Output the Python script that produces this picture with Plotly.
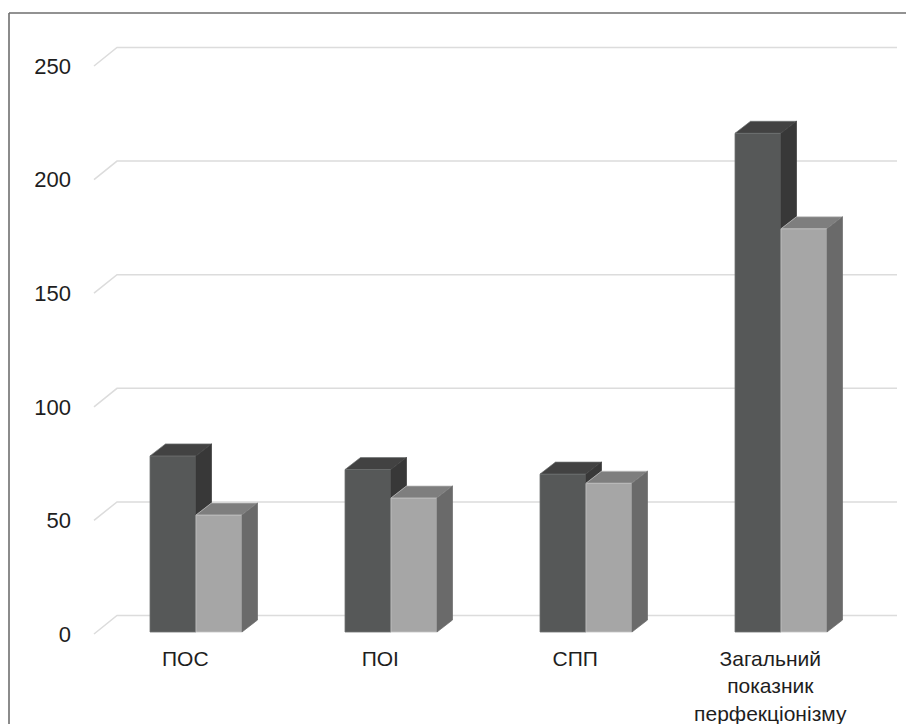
import plotly.graph_objects as go

# Category labels, series values and value-axis ticks
categories = ["ПОС", "ПОІ", "СПП", "Загальний<br>показник<br>перфекціонізму"]
series_dark = [77.5, 71.5, 69.5, 219.5]
series_light = [51.5, 59.0, 65.5, 177.5]
y_ticks = [0, 50, 100, 150, 200, 250]

# Canvas and plot-area geometry (pixels)
W, H = 906, 724
ML, MR, MT, MB = 80, 0, 0, 84
PX_PER_CAT = 195.0       # horizontal distance between category groups
PX_PER_UNIT = 2.272      # vertical pixels per value unit
X_ORIGIN_PX = 196.0      # pixel column of category 0 (split between the two bars)
Y_ZERO_PX = 634.0        # pixel row of value 0 on the front edge of the floor

x_range = [(ML - X_ORIGIN_PX) / PX_PER_CAT, (W - MR - X_ORIGIN_PX) / PX_PER_CAT]
y_range = [(Y_ZERO_PX - (H - MB)) / PX_PER_UNIT, (Y_ZERO_PX - MT) / PX_PER_UNIT]

# Pseudo-3D parameters in data units
BAR_W = 46 / PX_PER_CAT
BAR_DX = 15.5 / PX_PER_CAT
BAR_DY = 12.0 / PX_PER_UNIT
BAR_BASE = 2.0 / PX_PER_UNIT
WALL_X0 = (94 - X_ORIGIN_PX) / PX_PER_CAT
WALL_DX = 23 / PX_PER_CAT
WALL_DY = 18.5 / PX_PER_UNIT
WALL_X1 = (897 - X_ORIGIN_PX) / PX_PER_CAT
LABEL_SHIFT = -0.055

DARK = dict(front="#565858", top="#424242", side="#383838", edge="#6f7171")
LIGHT = dict(front="#a6a6a6", top="#7e7e7e", side="#6a6a6a", edge="#c4c4c4")
GRID = "#dcdcdc"

fig = go.Figure()

# Gridlines: short slanted run on the left wall, then along the back wall
for v in y_ticks:
    fig.add_shape(type="path", xref="x", yref="y", layer="below",
                  path=f"M {WALL_X0},{v} L {WALL_X0 + WALL_DX},{v + WALL_DY} L {WALL_X1},{v + WALL_DY}",
                  line=dict(color=GRID, width=1.5))

x_idx = list(range(len(categories)))
x_dark = [i - BAR_W / 2 for i in x_idx]
x_light = [i + BAR_W / 2 for i in x_idx]

# Front faces of the columns
fig.add_trace(go.Bar(x=x_dark, y=series_dark, base=BAR_BASE, width=BAR_W,
                     marker=dict(color=DARK["front"], line=dict(color=DARK["edge"], width=0.8)),
                     showlegend=False, hoverinfo="skip"))
fig.add_trace(go.Bar(x=x_light, y=series_light, base=BAR_BASE, width=BAR_W,
                     marker=dict(color=LIGHT["front"], line=dict(color=LIGHT["edge"], width=0.8)),
                     showlegend=False, hoverinfo="skip"))


def face(xs, ys, color, edge):
    fig.add_trace(go.Scatter(x=xs, y=ys, mode="lines", fill="toself", fillcolor=color,
                             line=dict(color=edge, width=0.7), hoverinfo="skip",
                             showlegend=False))


for i, vd, vl in zip(x_idx, series_dark, series_light):
    # dark column: top and the part of its side that rises above the light column
    x0, x1 = i - BAR_W, i
    td = vd + BAR_BASE
    tl = vl + BAR_BASE
    face([x0, x1, x1 + BAR_DX, x0 + BAR_DX, x0], [td, td, td + BAR_DY, td + BAR_DY, td],
         DARK["top"], DARK["edge"])
    if td > tl:
        face([x1, x1 + BAR_DX, x1 + BAR_DX, x1, x1], [tl, tl + BAR_DY, td + BAR_DY, td, tl],
             DARK["side"], DARK["side"])
    # light column: top and right side
    x0, x1 = i, i + BAR_W
    face([x0, x1, x1 + BAR_DX, x0 + BAR_DX, x0], [tl, tl, tl + BAR_DY, tl + BAR_DY, tl],
         LIGHT["top"], LIGHT["edge"])
    face([x1, x1 + BAR_DX, x1 + BAR_DX, x1, x1],
         [BAR_BASE, BAR_BASE + BAR_DY, tl + BAR_DY, tl, BAR_BASE],
         LIGHT["side"], LIGHT["side"])

# Outer frame (left and top edges)
fx0 = (9 - ML) / (W - ML - MR)
fy0 = (H - MB - 13) / (H - MT - MB)
fig.add_shape(type="line", xref="paper", yref="paper", x0=fx0, x1=fx0, y0=fy0, y1=-0.2,
              line=dict(color="#6e6e6e", width=1.6))
fig.add_shape(type="line", xref="paper", yref="paper", x0=fx0, x1=1.05, y0=fy0, y1=fy0,
              line=dict(color="#6e6e6e", width=1.6))

fig.update_layout(
    width=W, height=H,
    margin=dict(l=ML, r=MR, t=MT, b=MB),
    paper_bgcolor="white", plot_bgcolor="white",
    barmode="overlay",
    font=dict(family="Liberation Sans, Arial, sans-serif", color="#1e1e1e"),
    xaxis=dict(range=x_range, tickmode="array",
               tickvals=[i + LABEL_SHIFT for i in x_idx], ticktext=categories,
               showgrid=False, zeroline=False, showline=False, ticks="",
               ticklabelstandoff=4,
               tickfont=dict(size=21), fixedrange=True),
    yaxis=dict(range=y_range, tickmode="array", tickvals=y_ticks,
               ticktext=[str(t) for t in y_ticks],
               showgrid=False, zeroline=False, showline=False, ticks="",
               ticklabelstandoff=8,
               tickfont=dict(size=22), fixedrange=True),
)

fig.write_html("out.html")
